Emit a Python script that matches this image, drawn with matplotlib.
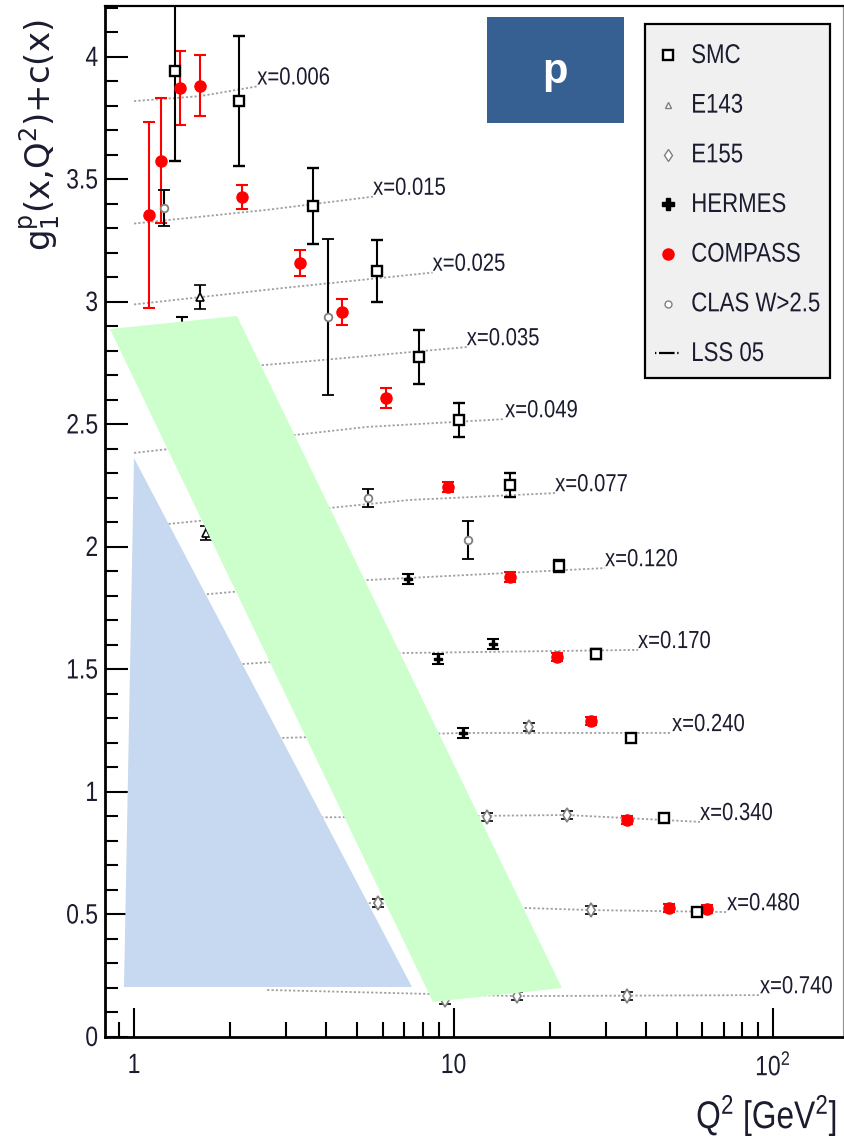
import matplotlib
matplotlib.use("Agg")
import matplotlib.pyplot as plt
from matplotlib.lines import Line2D
from matplotlib.patches import Polygon, Rectangle
from matplotlib.patheffects import AbstractPathEffect
from matplotlib.ticker import FixedLocator, FuncFormatter, NullFormatter
from matplotlib.transforms import Affine2D

# ---------------- data: g1^p(x,Q^2) + c(x) ----------------
smc_q2 = [1.344, 2.132, 3.634, 5.764, 7.798, 10.40, 14.97, 21.39, 27.92, 35.94, 45.6, 57.8]
smc_g = [3.943, 3.820, 3.392, 3.127, 2.776, 2.518, 2.253, 1.922, 1.563, 1.220, 0.894, 0.510]
smc_err = [0.367, 0.265, 0.155, 0.127, 0.110, 0.071, 0.047, 0.025, 0.020, 0.015, 0.015, 0.015]

compass_q2 = [1.114, 1.215, 1.393, 1.609, 2.178, 3.308, 4.477, 6.148, 9.612, 14.97, 21.08, 26.94, 34.8, 47.26, 62.1]
compass_g = [3.355, 3.576, 3.873, 3.882, 3.429, 3.159, 2.959, 2.608, 2.245, 1.878, 1.551, 1.290, 0.886, 0.527, 0.522]
compass_err = [0.38, 0.255, 0.15, 0.125, 0.05, 0.055, 0.055, 0.04, 0.02, 0.02, 0.015, 0.015, 0.015, 0.015, 0.015]

e143_q2 = [1.609, 1.680]
e143_g = [3.020, 2.057]
e143_err = [0.05, 0.03]

e155_q2 = [5.80, 12.69, 17.23, 22.66, 26.94, 9.406, 15.80, 34.8]
e155_g = [0.547, 0.898, 1.265, 0.906, 0.518, 0.151, 0.167, 0.167]
e155_err = [0.015, 0.015, 0.015, 0.015, 0.015, 0.015, 0.015, 0.015]

hermes_q2 = [1.413, 7.205, 8.944, 13.30, 10.71]
hermes_g = [2.88, 1.870, 1.543, 1.604, 1.241]
hermes_err = [0.06, 0.02, 0.02, 0.02, 0.02]

clas_q2 = [1.241, 4.048, 5.401, 11.06]
clas_g = [3.384, 2.939, 2.200, 2.029]
clas_err = [0.075, 0.32, 0.035, 0.078]

# LSS 05 curves, one per x bin
lss_labels = ["x=0.006", "x=0.015", "x=0.025", "x=0.035", "x=0.049", "x=0.077",
              "x=0.120", "x=0.170", "x=0.240", "x=0.340", "x=0.480", "x=0.740"]
lss_q2 = [[1.0, 1.61, 2.43], [1.0, 2.61, 5.6], [1.0, 2.93, 8.6], [1.05, 3.31, 11.0],
          [1.0, 5.36, 14.5], [1.0, 7.3, 20.8], [1.2, 5.36, 29.8], [1.6, 6.8, 37.8],
          [2.0, 10.7, 48.3], [3.0, 22.7, 59.1], [4.5, 27.0, 71.8], [2.61, 15.8, 91.0]]
lss_g = [[3.82, 3.84, 3.88], [3.32, 3.376, 3.43], [2.99, 3.057, 3.12], [2.70, 2.755, 2.816],
         [2.384, 2.49, 2.522], [2.08, 2.192, 2.22], [1.79, 1.865, 1.914], [1.51, 1.567, 1.58],
         [1.215, 1.241, 1.241], [0.895, 0.906, 0.878], [0.55, 0.518, 0.51], [0.192, 0.167, 0.171]]

legend_labels = ["SMC", "E143", "E155", "HERMES", "COMPASS", "CLAS W>2.5", "LSS 05"]

# ---------------- style ----------------
W, H, DPI = 845, 1136, 100
FONT = "Liberation Sans"
WIDE = "DejaVu Sans"
plt.rcParams["font.family"] = FONT
plt.rcParams["mathtext.fontset"] = "custom"
plt.rcParams["mathtext.rm"] = FONT
plt.rcParams["mathtext.it"] = FONT
plt.rcParams["mathtext.bf"] = FONT + ":bold"

TEXT = "#1c1c30"
GRAY = "#808080"


class TallText(AbstractPathEffect):
    """Draw glyphs stretched vertically about their baseline."""

    def __init__(self, sy=1.22):
        super().__init__()
        self._sy = sy

    def draw_path(self, renderer, gc, tpath, affine, rgbFace=None):
        renderer.draw_path(gc, tpath, Affine2D().scale(1.0, self._sy) + affine, rgbFace)


TALL = [TallText(1.22)]


def px(x, y):
    """pixel position (from top-left) -> figure fraction"""
    return (x / W, 1 - y / H)


fig = plt.figure(figsize=(W / DPI, H / DPI), dpi=DPI)
ax = fig.add_axes([105 / W, 1 - 1037 / H, (843 - 105) / W, (1037 - 6) / H])
ax.set_xscale("log")
ax.set_xlim(0.811, 165.6)
ax.set_ylim(0, 4.208)

# LSS 05 curves with their x labels
for lab, q, g in zip(lss_labels, lss_q2, lss_g):
    ax.plot(q, g, color="#a0a0a0", lw=1.3, ls=(0, (1.2, 1.2)), zorder=1)
    ax.text(q[-1], g[-1] + 0.03, lab, ha="left", va="center", fontsize=14.6, color=TEXT,
            zorder=2, path_effects=TALL)

eb = dict(ls="none", elinewidth=1.5, capthick=1.5, capsize=4, zorder=3)
ax.errorbar(compass_q2, compass_g, yerr=compass_err, fmt="o", color="red", ecolor="red",
            ms=8, mec="red", **eb)
ax.errorbar(smc_q2, smc_g, yerr=smc_err, fmt="s", ecolor="black", ms=7.5, mfc="white",
            mec="black", mew=1.7, **eb)
ax.errorbar(e143_q2, e143_g, yerr=e143_err, fmt="^", ecolor="black", ms=6, mfc="white",
            mec="black", mew=1.2, **eb)
ax.errorbar(e155_q2, e155_g, yerr=e155_err, fmt="d", ecolor="black", ms=7, mfc="white",
            mec=GRAY, mew=1.2, **eb)
ax.errorbar(hermes_q2, hermes_g, yerr=hermes_err, fmt="P", ecolor="black", ms=6, mfc="black",
            mec="black", **eb)
ax.errorbar(clas_q2, clas_g, yerr=clas_err, fmt="o", ecolor="black", ms=5.5, mfc="white",
            mec=GRAY, mew=1.3, **eb)

# axes, ticks
ax.xaxis.set_major_locator(FixedLocator([1, 10, 100]))
ax.xaxis.set_minor_locator(FixedLocator([0.9] + list(range(2, 10)) + list(range(20, 100, 10))))
xlabels = {1: "1", 10: "10", 100: r"$\mathregular{10^2}$"}
ax.xaxis.set_major_formatter(FuncFormatter(lambda v, p: xlabels.get(int(round(v)), "")))
ax.xaxis.set_minor_formatter(NullFormatter())
ax.yaxis.set_major_locator(FixedLocator([0, 0.5, 1, 1.5, 2, 2.5, 3, 3.5, 4]))
ax.yaxis.set_minor_locator(FixedLocator([i / 10 for i in range(0, 43)]))
ax.yaxis.set_major_formatter(FuncFormatter(lambda v, p: "%g" % v))

ax.tick_params(axis="x", which="major", direction="in", length=21, width=1.5, labelsize=16.5,
               pad=13, labelcolor=TEXT, top=False)
ax.tick_params(axis="x", which="minor", direction="in", length=11, width=1.5, top=False)
ax.tick_params(axis="y", which="major", direction="in", length=16.5, width=1.5, labelsize=16.5,
               pad=5, labelcolor=TEXT, right=False)
ax.tick_params(axis="y", which="minor", direction="in", length=9.5, width=1.5, right=False)

for s in ("left", "bottom"):
    ax.spines[s].set_linewidth(2)
ax.spines["top"].set_linewidth(1.6)
ax.spines["right"].set_linewidth(0.8)
ax.spines["right"].set_color("#909090")

fig.text(837 / W, 1 - 1118 / H, r"$\mathregular{Q^2\ [GeV^2]}$", ha="right", va="center",
         fontsize=22.8, color=TEXT, path_effects=TALL)
fig.text(40 / W, 1 - 135 / H, r"$\mathregular{g_1^p(x{,}Q^2){+}c(x)}$", rotation=90,
         ha="center", va="center", fontsize=24.5, family=WIDE, color=TEXT)

# shaded overlays
green = Polygon([px(110, 329), px(237, 316), px(562, 988), px(433, 1002)], closed=True,
                transform=fig.transFigure, facecolor="#ccffcc", edgecolor="none", zorder=3)
tri = Polygon([px(134, 458), px(124, 987), px(412, 987)], closed=True,
              transform=fig.transFigure, facecolor="#c6d9f0", edgecolor="none", zorder=3)
box = Rectangle(px(487, 123), 137 / W, 106 / H, transform=fig.transFigure,
                facecolor="#376092", edgecolor="none", zorder=3)
for a in (green, tri, box):
    fig.add_artist(a)
fig.text(555 / W, 1 - 72 / H, "p", ha="center", va="center", fontsize=30, fontweight="bold",
         family="Liberation Sans", color="white", zorder=4)

# legend
frame = Rectangle(px(645, 378), 185 / W, 354 / H, transform=fig.transFigure,
                  facecolor="#f0f0f0", edgecolor="black", lw=1.6, zorder=4)
fig.add_artist(frame)
handles = [
    Line2D([], [], ls="none", marker="s", ms=7, mfc="white", mec="black", mew=1.7),
    Line2D([], [], ls="none", marker="^", ms=5, mfc="white", mec=GRAY, mew=1.0),
    Line2D([], [], ls="none", marker="d", ms=6, mfc="white", mec=GRAY, mew=1.0),
    Line2D([], [], ls="none", marker="P", ms=8, mfc="black", mec="black"),
    Line2D([], [], ls="none", marker="o", ms=8, mfc="red", mec="red"),
    Line2D([], [], ls="none", marker="o", ms=5, mfc="white", mec=GRAY, mew=1.0),
    Line2D([], [], color="black", lw=1.6, ls=(0, (0.6, 1.2, 7, 1.2, 0.6, 1.2))),
]
leg = fig.legend(handles, legend_labels, loc="upper left", bbox_to_anchor=px(655, 47),
                 bbox_transform=fig.transFigure, frameon=False, fontsize=16, labelspacing=1.29,
                 handlelength=1.15, handletextpad=0.48, borderpad=0, borderaxespad=0,
                 labelcolor=TEXT)
for t in leg.get_texts():
    t.set_path_effects(TALL)

# tick labels get the same tall lettering
fig.canvas.draw()
for t in ax.get_xticklabels() + ax.get_yticklabels():
    t.set_path_effects(TALL)

fig.savefig("out.png", dpi=DPI)
